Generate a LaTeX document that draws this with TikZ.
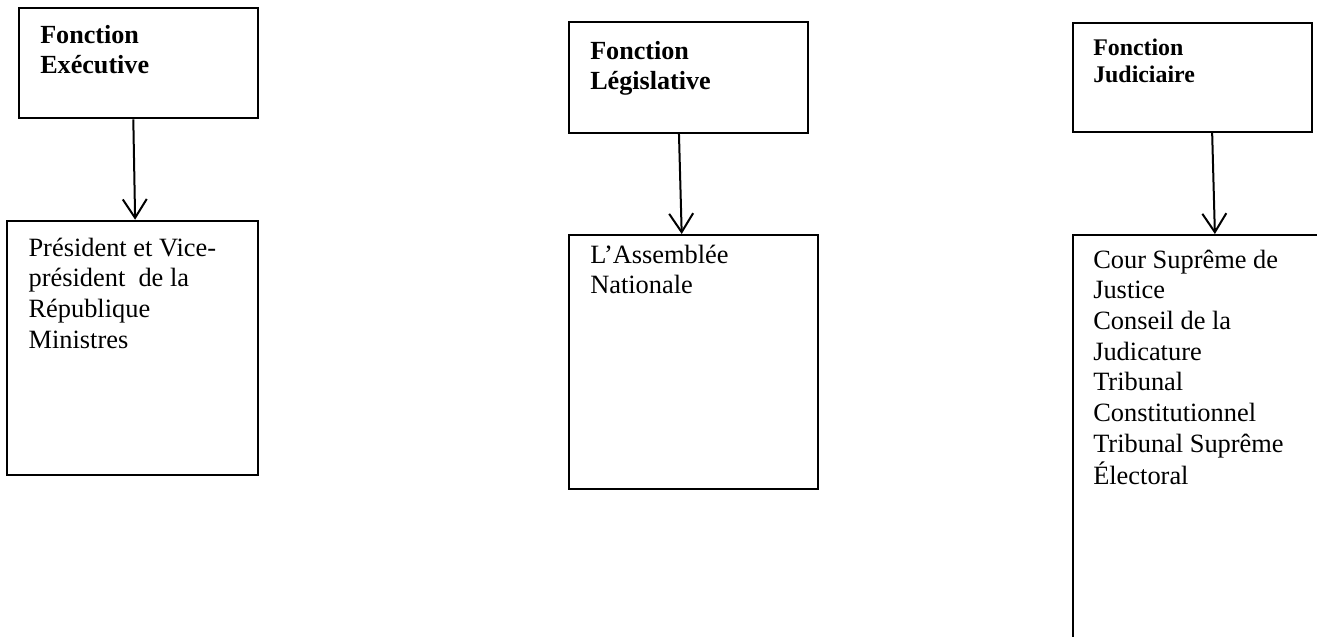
\documentclass[tikz,border=0pt]{standalone}
\usepackage{fontspec}
\setmainfont{Liberation Serif}
\usetikzlibrary{arrows.meta,fit,calc}
\begin{document}
\begin{tikzpicture}[x=0.75pt,y=-0.75pt,
  frame/.style={draw, line width=1.5pt, inner sep=0pt},
  arr/.style={line width=1.5pt, -{Straight Barb[length=14pt,width=18pt]}},
  body/.style={anchor=base west, inner sep=0pt, font=\fontsize{19.8}{23}\selectfont},
  head/.style={anchor=base west, inner sep=0pt, font=\fontsize{19.6}{23}\selectfont\bfseries},
  headsmall/.style={anchor=base west, inner sep=0pt, font=\fontsize{17.9}{20.6}\selectfont\bfseries}]
\useasboundingbox (0,0) rectangle (1317,636);
\clip (0,0) rectangle (1317,636);

% Executive branch
\node[frame, fit={(19,8.3) (257.7,118.3)}] (t1) {};
\node[frame, fit={(7,220.7) (257.7,474.5)}] (b1) {};
\node[head] (t1txt) at (40,43.3) {\begin{tabular}[t]{@{}l@{}}Fonction\\Exécutive\end{tabular}};
\node[body] (b1txt) at (28.3,256) {\begin{tabular}[t]{@{}l@{}}Président et Vice-\\président\ \ de la\\République\\Ministres\end{tabular}};
\draw[arr] ($(t1.south west)!0.479!(t1.south east)$) -- ($(b1.north west)!0.511!(b1.north east)$);

% Legislative branch
\node[frame, fit={(569,22.3) (807.7,132.7)}] (t2) {};
\node[frame, fit={(569,235) (818,488.7)}] (b2) {};
\node[head] (t2txt) at (590,59.3) {\begin{tabular}[t]{@{}l@{}}Fonction\\Législative\end{tabular}};
\node[body] (b2txt) at (590,263.3) {\begin{tabular}[t]{@{}l@{}}L’Assemblée\\Nationale\end{tabular}};
\draw[arr] ($(t2.south west)!0.461!(t2.south east)$) -- ($(b2.north west)!0.453!(b2.north east)$);

% Judicial branch (lower box runs past the page edges)
\node[frame, fit={(1073.3,23.3) (1312,131.7)}] (t3) {};
\node[frame, fit={(1073.3,235) (1345,670)}] (b3) {};
\node[headsmall] (t3txt) at (1093,55) {\begin{tabular}[t]{@{}l@{}}Fonction\\Judiciaire\end{tabular}};
\node[body] (b3txt) at (1093,268.3) {\begin{tabular}[t]{@{}l@{}}Cour Suprême de\\Justice\\Conseil de la\\Judicature\\Tribunal\\Constitutionnel\\Tribunal Suprême\\Électoral\end{tabular}};
\draw[arr] ($(t3.south west)!0.581!(t3.south east)$) -- ($(b3.north west)!0.521!(b3.north east)$);
\end{tikzpicture}
\end{document}
